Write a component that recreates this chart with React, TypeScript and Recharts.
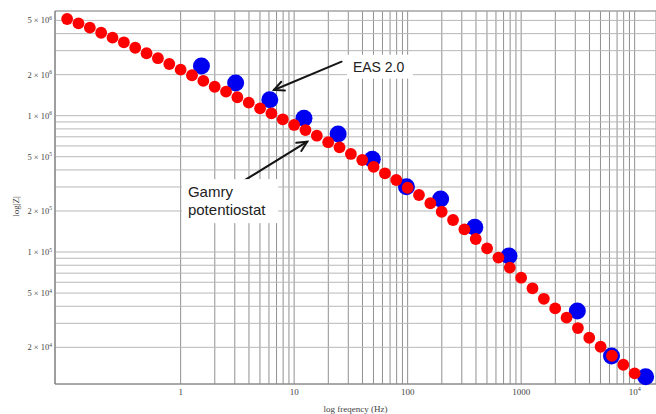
import React from 'react';
import { ScatterChart, Scatter, XAxis, YAxis, CartesianGrid, ReferenceLine, ReferenceDot } from 'recharts';

// Gamry potentiostat (red) – frequency (Hz) and |Z|
const GAMRY_FREQ = [
  0.1, 0.1259, 0.1585, 0.1995, 0.2512, 0.3162, 0.3981, 0.5012, 0.631, 0.7943,
  1, 1.259, 1.585, 1.995, 2.512, 3.162, 3.981, 5.012, 6.31, 7.943,
  10, 12.59, 15.85, 19.95, 25.12, 31.62, 39.81, 50.12, 63.1, 79.43,
  100, 125.9, 158.5, 199.5, 251.2, 316.2, 398.1, 501.2, 631, 794.3,
  1000, 1259, 1585, 1995, 2512, 3162, 3981, 5012, 6310, 7943,
  10000,
];
const GAMRY_Z = [
  5.12e6, 4.76e6, 4.42e6, 4.06e6, 3.735e6, 3.455e6, 3.15e6, 2.87e6, 2.64e6, 2.395e6,
  2.175e6, 1.98e6, 1.8e6, 1.63e6, 1.5e6, 1.365e6, 1.246e6, 1.133e6, 1.041e6, 9.41e5,
  8.55e5, 7.85e5, 7.13e5, 6.39e5, 5.86e5, 5.24e5, 4.73e5, 4.22e5, 3.78e5, 3.375e5,
  2.96e5, 2.62e5, 2.28e5, 1.975e5, 1.717e5, 1.467e5, 1.246e5, 1.064e5, 9.11e4, 7.69e4,
  6.48e4, 5.42e4, 4.54e4, 3.86e4, 3.3e4, 2.77e4, 2.35e4, 2.02e4, 1.734e4, 1.49e4,
  1.288e4,
];

// EAS 2.0 (blue)
const EAS_FREQ = [1.526, 3.052, 6.104, 12.21, 24.41, 48.83, 97.66, 195.3, 390.6, 781.3, 3125, 6250, 12500];
const EAS_Z = [2.315e6, 1.738e6, 1.31e6, 9.57e5, 7.34e5, 4.79e5, 3.01e5, 2.45e5, 1.52e5, 9.35e4, 3.69e4, 1.73e4, 1.216e4];

// grid / tick values
const X_TICKS = [
  1, 2, 3, 4, 5, 6, 7, 8, 9,
  10, 20, 30, 40, 50, 60, 70, 80, 90,
  100, 200, 300, 400, 500, 600, 700, 800, 900,
  1000, 2000, 3000, 4000, 5000, 6000, 7000, 8000, 9000,
  10000,
];
const X_LABELS: Record<number, [string, string]> = { 1: ['1', ''], 10: ['10', ''], 100: ['100', ''], 1000: ['1000', ''], 10000: ['10', '4'] };
const Y_TICKS = [
  2e4, 3e4, 4e4, 5e4, 6e4, 7e4, 8e4, 9e4,
  1e5, 2e5, 3e5, 4e5, 5e5, 6e5, 7e5, 8e5, 9e5,
  1e6, 2e6, 3e6, 4e6, 5e6,
];
const Y_LABELS: Record<number, [string, string]> = {
  2e4: ['2', '4'], 5e4: ['5', '4'], 1e5: ['1', '5'], 2e5: ['2', '5'], 5e5: ['5', '5'],
  1e6: ['1', '6'], 2e6: ['2', '6'], 5e6: ['5', '6'],
};

const X_DOMAIN = [0.0782, 15420];
const Y_DOMAIN = [10765, 5.86e6];

// annotations (data coordinates)
const EAS_ARROW = [{ x: 26.2, y: 2.49e6 }, { x: 6.64, y: 1.544e6 }];
const GAMRY_ARROW = [{ x: 3.38, y: 3.224e5 }, { x: 13.04, y: 6.446e5 }];
const EAS_TEXT = { x: 32.96, y: 2.288e6, lines: ['EAS 2.0'] };
const GAMRY_TEXT = { x: 1.16, y: 2.75e5, lines: ['Gamry', 'potentiostat'] };

const gamry = GAMRY_FREQ.map((f, i) => ({ f, z: GAMRY_Z[i] }));
const eas = EAS_FREQ.map((f, i) => ({ f, z: EAS_Z[i] }));

const SERIF = '"Liberation Serif", "Times New Roman", serif';
const SANS = '"Liberation Sans", Arial, sans-serif';

const XTick = (props: any) => {
  const { x, y, payload } = props;
  const lab = X_LABELS[payload.value];
  if (!lab) return null;
  return (
    <text x={x} y={y} dy="0.71em" textAnchor="middle" fontFamily={SERIF} fontSize={9} fill="#444">
      <tspan>{lab[0]}</tspan>
      {lab[1] ? <tspan dy={-4} fontSize={6}>{lab[1]}</tspan> : null}
    </text>
  );
};

const YTick = (props: any) => {
  const { x, y, payload } = props;
  const lab = Y_LABELS[payload.value];
  if (!lab) return null;
  return (
    <text x={x} y={y} dy="0.35em" textAnchor="end" fontFamily={SERIF} fontSize={8.5} fill="#444">
      <tspan>{lab[0] + ' \u00d7 10'}</tspan>
      <tspan dy={-3.5} fontSize={5.5}>{lab[1]}</tspan>
    </text>
  );
};

const Arrow = (props: any) => {
  const { x1, y1, x2, y2 } = props;
  if ([x1, y1, x2, y2].some((v) => v == null || isNaN(v))) return null;
  const ang = Math.atan2(y2 - y1, x2 - x1);
  const L = 11;
  const a1 = ang + Math.PI - 0.45;
  const a2 = ang + Math.PI + 0.45;
  return (
    <g stroke="#151515" strokeWidth={2} fill="none" strokeLinecap="round">
      <line x1={x1} y1={y1} x2={x2} y2={y2} />
      <polyline points={`${x2 + L * Math.cos(a1)},${y2 + L * Math.sin(a1)} ${x2},${y2} ${x2 + L * Math.cos(a2)},${y2 + L * Math.sin(a2)}`} />
    </g>
  );
};

const makeTextBox = (lines: string[], fontSize: number, lineH: number, boxW: number) => (props: any) => {
  const { cx, cy } = props;
  if (cx == null || cy == null) return null;
  const h = lineH * lines.length + 8;
  return (
    <g>
      <rect x={cx - 6} y={cy - lineH / 2 - 4} width={boxW} height={h} fill="#fff" />
      {lines.map((t, i) => (
        <text key={i} x={cx} y={cy + i * lineH} dy="0.35em" fontFamily={SANS} fontSize={fontSize} fill="#222">
          {t}
        </text>
      ))}
    </g>
  );
};

const redDot = (p: any) => <circle cx={p.cx} cy={p.cy} r={5.9} fill="#ff0000" />;
const blueDot = (p: any) => <circle cx={p.cx} cy={p.cy} r={8.5} fill="#0000f0" />;

export default function App() {
  return (
    <div style={{ position: 'absolute', left: 0, top: 0, width: 656, height: 414, background: '#fff' }}>
      <ScatterChart width={656} height={414} margin={{ top: 11, right: 0, bottom: 0, left: 0 }}>
        <CartesianGrid horizontal={false} stroke="#909090" strokeWidth={1} />
        <CartesianGrid vertical={false} stroke="#b8b8b8" strokeWidth={1} />
        <XAxis
          dataKey="f"
          type="number"
          scale="log"
          domain={X_DOMAIN}
          ticks={X_TICKS}
          interval={0}
          tickLine={false}
          tickSize={0}
          tickMargin={5}
          height={30}
          axisLine={{ stroke: '#777' }}
          tick={<XTick />}
          label={{ value: 'log freqency (Hz)', position: 'insideBottom', offset: 2, fontFamily: SERIF, fontSize: 9, fill: '#444' }}
        />
        <YAxis
          dataKey="z"
          type="number"
          scale="log"
          domain={Y_DOMAIN}
          ticks={Y_TICKS}
          interval={0}
          tickLine={false}
          tickSize={0}
          tickMargin={3}
          width={55}
          axisLine={{ stroke: '#777' }}
          tick={<YTick />}
          label={{
            content: (p: any) => {
              const vb = p.viewBox || { x: 0, y: 11, width: 55, height: 373 };
              const cx = vb.x + 16;
              const cy = vb.y + vb.height / 2 + 9;
              return (
                <text x={cx} y={cy} transform={`rotate(-90 ${cx} ${cy})`} textAnchor="middle" dy="0.35em" fontFamily={SERIF} fontSize={9} fill="#444">
                  log|Z|
                </text>
              );
            },
          }}
        />
        <ReferenceLine y={Y_DOMAIN[1]} stroke="#999" ifOverflow="visible" />
        <Scatter data={eas} shape={blueDot} isAnimationActive={false} />
        <Scatter data={gamry} shape={redDot} isAnimationActive={false} />
        <ReferenceDot x={EAS_TEXT.x} y={EAS_TEXT.y} r={0} shape={makeTextBox(EAS_TEXT.lines, 14, 16, 66)} />
        <ReferenceDot x={GAMRY_TEXT.x} y={GAMRY_TEXT.y} r={0} shape={makeTextBox(GAMRY_TEXT.lines, 15, 18, 96)} />
        <ReferenceLine segment={EAS_ARROW} shape={Arrow} ifOverflow="visible" />
        <ReferenceLine segment={GAMRY_ARROW} shape={Arrow} ifOverflow="visible" />
      </ScatterChart>
    </div>
  );
}
